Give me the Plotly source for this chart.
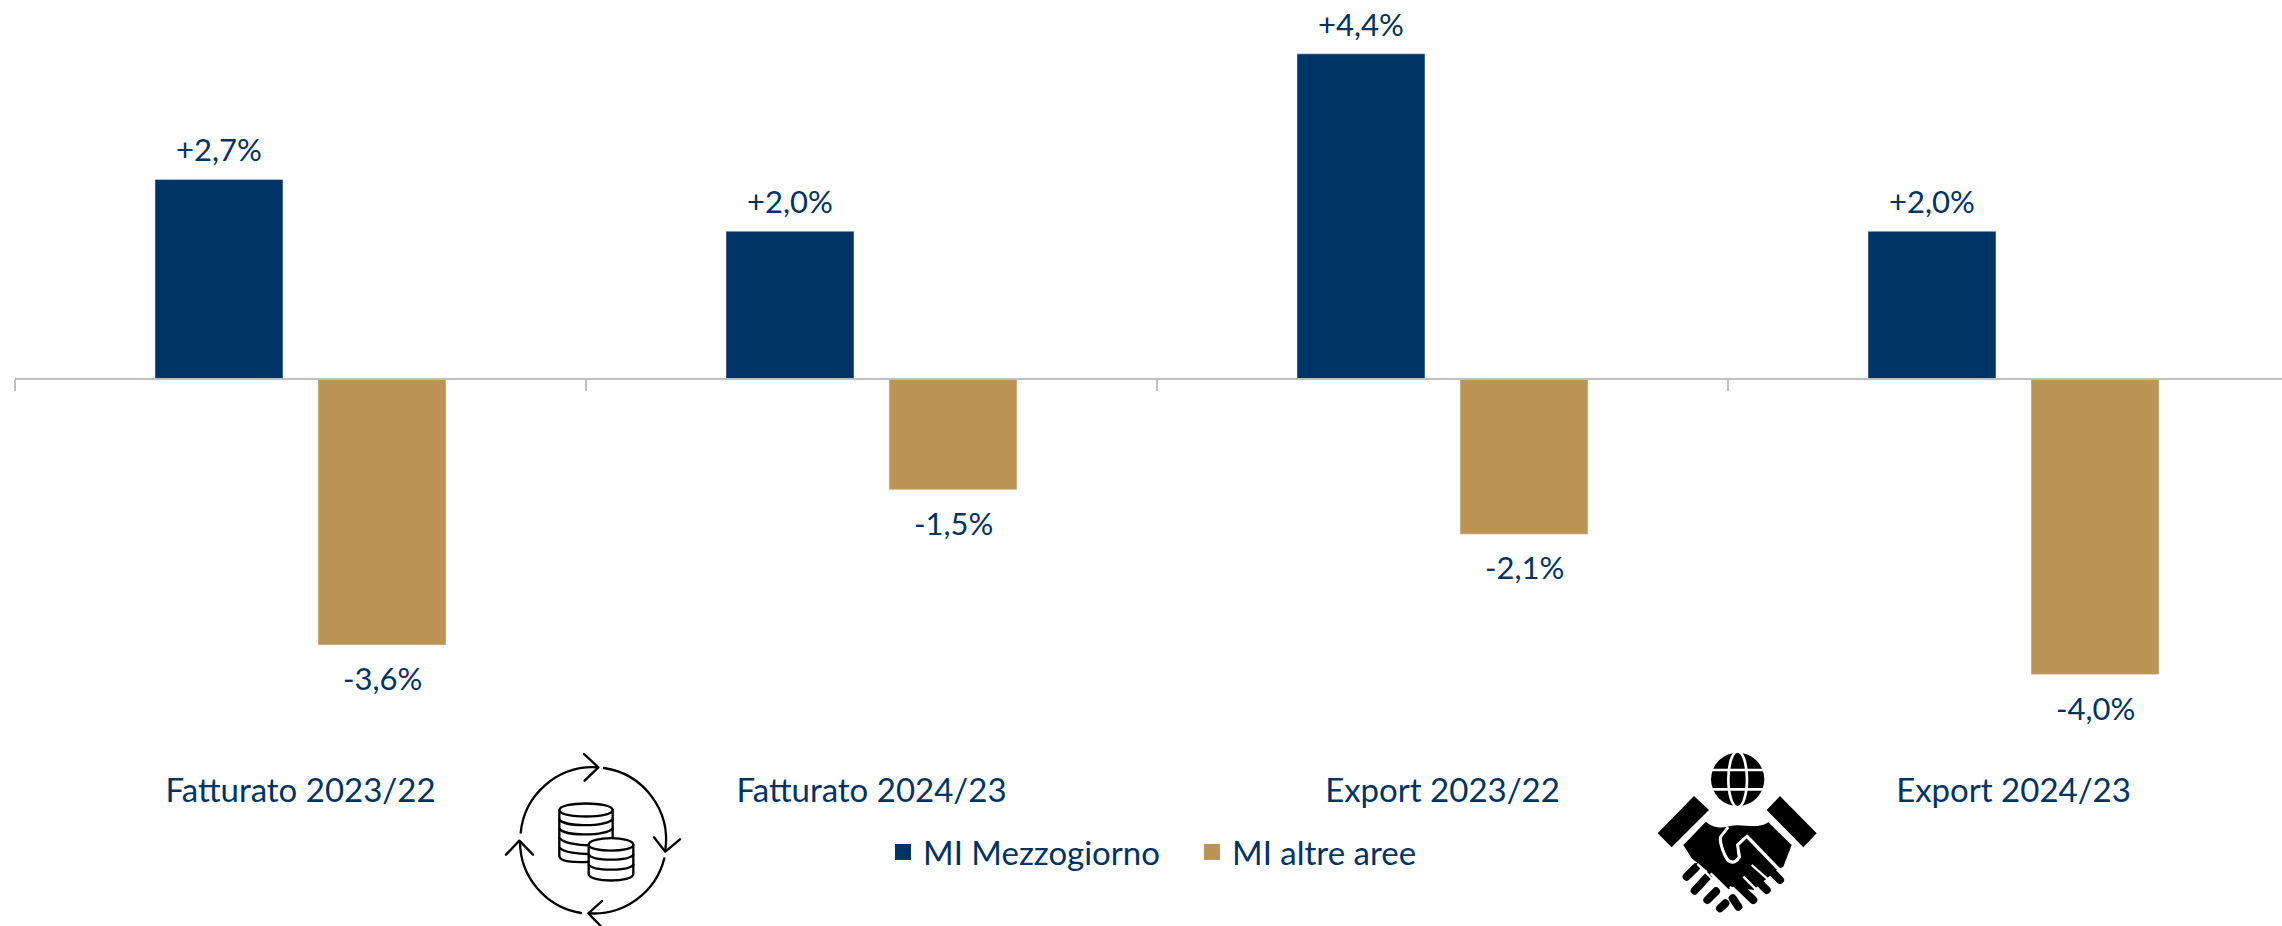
import base64
import plotly.graph_objects as go

W, H = 2282, 926
categories = ["Fatturato 2023/22", "Fatturato 2024/23", "Export 2023/22", "Export 2024/23"]
series_names = ["MI Mezzogiorno", "MI altre aree"]
mezzogiorno = [2.7, 2.0, 4.4, 2.0]
altre_aree = [-3.6, -1.5, -2.1, -4.0]
mezzogiorno_labels = ["+2,7%", "+2,0%", "+4,4%", "+2,0%"]
altre_labels = ["-3,6%", "-1,5%", "-2,1%", "-4,0%"]

NAVY = "#003366"
GOLD = "#BC9555"
FONT = "Lato"
FS_LABEL = 31
FS_CAT = 33
FS_LEG = 33

# layout constants (pixels)
LEFT = 15
CAT_W = 571
ZERO_PX = 379
PX_PER_UNIT = 73.9

fig = go.Figure()
fig.add_bar(x=categories, y=mezzogiorno, marker_color=NAVY, showlegend=False)
fig.add_bar(x=categories, y=altre_aree, marker_color=GOLD, showlegend=False)
for name, col in zip(series_names, [NAVY, GOLD]):
    fig.add_scatter(x=[None], y=[None], mode="markers", name=name,
                    marker=dict(symbol="square", size=16, color=col))

for vals, labs, xs, ys in [(mezzogiorno, mezzogiorno_labels, -81.5, 30),
                           (altre_aree, altre_labels, 81.5, -33)]:
    for c, v, t in zip(categories, vals, labs):
        fig.add_annotation(x=c, y=v, text=t, showarrow=False, xshift=xs, yshift=ys,
                           font=dict(family=FONT, size=FS_LABEL, color=NAVY))

coins = """
<g fill='none' stroke='#000' stroke-width='7' stroke-linecap='round' stroke-linejoin='round'>
<path d='M122 308 A218 218 0 0 1 352 112'/><path d='M312 72 L355 112 L314 152'/>
<path d='M372 114 A218 218 0 0 1 556 360'/><path d='M522 322 L556 365 L600 328'/>
<path d='M553 385 A218 218 0 0 1 328 550'/><path d='M366 513 L325 550 L362 588'/>
<path d='M303 549 A218 218 0 0 1 120 335'/><path d='M78 374 L118 332 L159 374'/>
<path d='M238 240 C238 214 398 214 398 240 C398 266 238 266 238 240 Z'/>
<path d='M238 240 V378 C238 395 280 398 325 396'/><path d='M398 240 V324'/>
<path d='M238 268 C250 290 370 292 398 268'/><path d='M238 296 C250 318 370 320 398 296'/>
<path d='M238 324 C250 340 300 346 325 346'/><path d='M238 352 C250 368 300 372 325 372'/>
<path d='M326 344 C326 318 460 318 460 344 C460 368 326 368 326 344 Z' fill='#fff'/>
<path d='M326 344 V432 C326 458 460 458 460 432 V344'/>
<path d='M326 374 C340 394 446 394 460 374'/><path d='M326 404 C340 424 446 424 460 404'/>
</g>"""
shake = """
<g>
<circle cx='353' cy='148' r='80' fill='#000'/>
<g fill='none' stroke='#fff' stroke-width='8'>
<line x1='265' x2='441' y1='120' y2='120'/><line x1='265' x2='441' y1='178' y2='178'/>
<ellipse cx='353' cy='148' rx='28' ry='84'/></g>
<path d='M113 310 L222 198 L267 240 L155 352 Z M440 240 L480 198 L590 310 L550 352 Z' fill='#000'/>
<path d='M190 345 L258 275 C280 295 310 295 330 288 C370 280 410 300 445 277 L515 345 L490 410 L470 420 L400 480 L340 470 L320 480 L270 430 L215 385 Z' fill='#000'/>
<path d='M325 292 L302 322 C298 340 315 380 325 392 C340 402 352 392 358 380 L352 345 L380 318 L490 432' fill='none' stroke='#fff' stroke-width='10' stroke-linejoin='round'/>
<path d='M330 292 L306 322 C304 340 318 375 330 388 C340 394 348 388 352 380 L348 342 L382 312 L450 375 L510 345 L445 280 C410 300 370 280 330 292 Z' fill='#000'/>
<g fill='none' stroke='#000' stroke-width='24' stroke-linecap='round'>
<line x1='200' y1='440' x2='228' y2='412'/><line x1='224' y1='482' x2='266' y2='436'/>
<line x1='262' y1='510' x2='288' y2='484'/><line x1='300' y1='535' x2='316' y2='520'/>
<line x1='480' y1='450' x2='420' y2='390'/><line x1='440' y1='480' x2='385' y2='425'/>
<line x1='400' y1='510' x2='350' y2='462'/><line x1='355' y1='530' x2='338' y2='505'/>
</g>
<g fill='none' stroke='#fff' stroke-width='7'>
<line x1='232' y1='402' x2='300' y2='470'/><line x1='272' y1='430' x2='325' y2='482'/>
<line x1='395' y1='405' x2='480' y2='480'/><line x1='370' y1='440' x2='430' y2='500'/><line x1='330' y1='470' x2='370' y2='515'/>
</g>
</g>"""

def icon(body, vw, vh):
    svg = f"<svg xmlns='http://www.w3.org/2000/svg' width='{vw}' height='{vh}' viewBox='0 0 {vw} {vh}'>{body}</svg>"
    return "data:image/svg+xml;base64," + base64.b64encode(svg.encode()).decode()

def px_x(p):
    return (p - LEFT) / (W - LEFT)

def px_y(p):
    return (H - p) / H

images = []
for body, vw, vh, x0, y0 in [(coins, 840, 588, 480, 730), (shake, 660, 588, 1620, 730)]:
    images.append(dict(source=icon(body, vw, vh), xref="paper", yref="paper",
                       x=px_x(x0), y=px_y(y0), sizex=vw / 3 / (W - LEFT), sizey=vh / 3 / H,
                       xanchor="left", yanchor="top", sizing="stretch", layer="above"))

fig.update_layout(
    width=W, height=H, autosize=False,
    margin=dict(l=LEFT, r=0, t=0, b=0),
    paper_bgcolor="white", plot_bgcolor="white",
    barmode="group", bargap=0.429, bargroupgap=0.215,
    font=dict(family=FONT, size=FS_CAT, color=NAVY),
    images=images,
    showlegend=True,
    legend=dict(orientation="h", x=px_x(883), xanchor="left",
                y=px_y(852), yanchor="middle", bgcolor="rgba(0,0,0,0)",
                font=dict(family=FONT, size=FS_LEG, color=NAVY), itemwidth=30,
                entrywidth=264, entrywidthmode="pixels", traceorder="normal"),
    xaxis=dict(
        type="category", categoryorder="array", categoryarray=categories,
        range=[-0.5, -0.5 + (W - LEFT) / CAT_W],
        anchor="free", position=(H - ZERO_PX) / H,
        showline=True, linecolor="#BFBFBF", linewidth=2,
        ticks="outside", ticklen=11, tickcolor="#BFBFBF", tickwidth=2, tickson="boundaries",
        showgrid=False, zeroline=False,
        ticklabelstandoff=382, tickfont=dict(family=FONT, size=FS_CAT, color=NAVY),
    ),
    yaxis=dict(
        range=[-(H - ZERO_PX) / PX_PER_UNIT, ZERO_PX / PX_PER_UNIT],
        visible=False, showgrid=False, zeroline=False,
    ),
)

fig.write_html("out.html", config={"displayModeBar": False},
               post_script="document.body.style.margin='0';document.documentElement.style.overflow='hidden';")
